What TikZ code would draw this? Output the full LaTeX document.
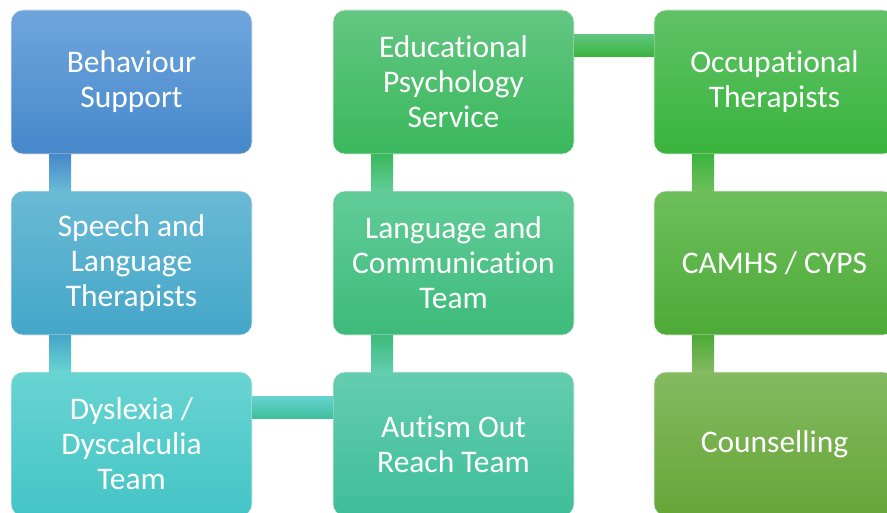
\documentclass[tikz,border=0pt]{standalone}
\usepackage{fontspec}
\setmainfont{Carlito}[Ligatures=NoCommon]
\usetikzlibrary{calc}

% box colours, top and bottom of each gradient
\definecolor{behTop}{HTML}{6FA5DD}\definecolor{behBot}{HTML}{4688CB}
\definecolor{speTop}{HTML}{6ABAD5}\definecolor{speBot}{HTML}{44A6C8}
\definecolor{dysTop}{HTML}{68D4D2}\definecolor{dysBot}{HTML}{44C4C6}
\definecolor{autTop}{HTML}{64CDB0}\definecolor{autBot}{HTML}{3EBE98}
\definecolor{lctTop}{HTML}{62CC98}\definecolor{lctBot}{HTML}{3DBB7A}
\definecolor{eduTop}{HTML}{63C682}\definecolor{eduBot}{HTML}{3AB85C}
\definecolor{occTop}{HTML}{5FC266}\definecolor{occBot}{HTML}{3AB43D}
\definecolor{camTop}{HTML}{6EBF5C}\definecolor{camBot}{HTML}{4DAA37}
\definecolor{couTop}{HTML}{84BA60}\definecolor{couBot}{HTML}{66A638}

\begin{document}
\begin{tikzpicture}[x=0.75pt, y=0.75pt,
    team/.style={rectangle, rounded corners=9pt, draw=white!92!black, line width=0.4pt,
        outer sep=0pt, minimum width=180.75pt, minimum height=108pt,
        text=white, align=center, font=\fontsize{23.6}{26.3}\selectfont},
    link/.style={draw=none}]
    \useasboundingbox (0,0) rectangle (887,512);
    \clip (0,0) rectangle (887,512);

    % Left column
    \node[team, top color=behTop, bottom color=behBot] (beh) at (131.5,430) {Behaviour\\Support};
    \node[team, top color=speTop, bottom color=speBot] (spe) at (131.5,249) {Speech and\\Language\\Therapists};
    \node[team, top color=dysTop, bottom color=dysBot] (dys) at (131.5,68) {Dyslexia /\\Dyscalculia\\Team};

    % Middle column
    \node[team, top color=eduTop, bottom color=eduBot] (edu) at (453.5,430) {Educational\\Psychology\\Service};
    \node[team, top color=lctTop, bottom color=lctBot] (lct) at (453.5,249) {Language and\\Communication\\Team};
    \node[team, top color=autTop, bottom color=autBot] (aut) at (453.5,68) {Autism Out\\Reach Team};

    % Right column
    \node[team, top color=occTop, bottom color=occBot] (occ) at (774.5,430) {Occupational\\Therapists};
    \node[team, top color=camTop, bottom color=camBot] (cam) at (774.5,249) {CAMHS / CYPS};
    \node[team, top color=couTop, bottom color=couBot] (cou) at (774.5,68) {Counselling};

    % Vertical links
    \shade[link, top color=behBot, bottom color=speTop] ($(beh.south west)+(38,0)$) rectangle ($(spe.north west)+(60,0)$);
    \shade[link, top color=speBot, bottom color=dysTop] ($(spe.south west)+(38,0)$) rectangle ($(dys.north west)+(60,0)$);
    \shade[link, top color=lctBot, bottom color=autTop] ($(lct.south west)+(38,0)$) rectangle ($(aut.north west)+(60,0)$);
    \shade[link, top color=eduBot, bottom color=lctTop] ($(edu.south west)+(38,0)$) rectangle ($(lct.north west)+(60,0)$);
    \shade[link, top color=occBot, bottom color=camTop] ($(occ.south west)+(38,0)$) rectangle ($(cam.north west)+(60,0)$);
    \shade[link, top color=camBot, bottom color=couTop] ($(cam.south west)+(38,0)$) rectangle ($(cou.north west)+(60,0)$);

    % Horizontal links
    \shade[link, top color=dysTop, bottom color=autBot!90!dysBot] ($(dys.north east)+(0,-24)$) rectangle ($(aut.north west)+(0,-46)$);
    \shade[link, top color=eduTop, bottom color=occBot] ($(edu.north east)+(0,-24)$) rectangle ($(occ.north west)+(0,-46)$);
\end{tikzpicture}
\end{document}
